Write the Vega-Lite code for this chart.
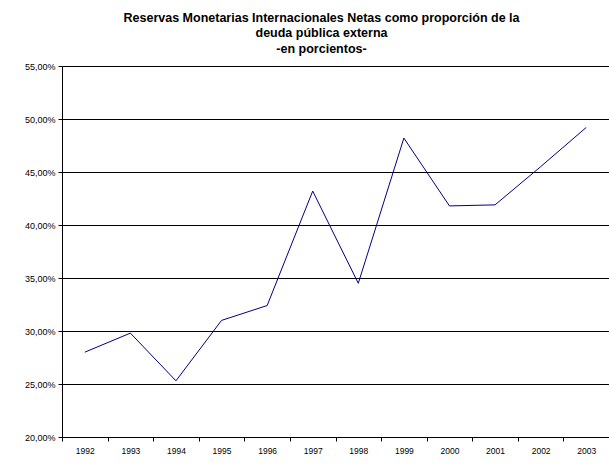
{
  "$schema": "https://vega.github.io/schema/vega-lite/v6.json",
  "width": 547,
  "height": 371,
  "autosize": {"type": "none"},
  "padding": {"left": 62, "top": 66, "right": 0, "bottom": 28},
  "background": "white",
  "title": {
    "text": ["Reservas Monetarias Internacionales Netas como proporción de la", "deuda pública externa", "-en porcientos-"],
    "font": "Liberation Sans",
    "fontSize": 12.5,
    "fontWeight": "bold",
    "color": "black",
    "lineHeight": 15.5,
    "anchor": "middle",
    "frame": "group",
    "dx": -14,
    "offset": 7
  },
  "data": {
    "values": [
      {"year": "1992", "value": 0.280},
      {"year": "1993", "value": 0.298},
      {"year": "1994", "value": 0.253},
      {"year": "1995", "value": 0.310},
      {"year": "1996", "value": 0.324},
      {"year": "1997", "value": 0.432},
      {"year": "1998", "value": 0.345},
      {"year": "1999", "value": 0.482},
      {"year": "2000", "value": 0.418},
      {"year": "2001", "value": 0.419},
      {"year": "2002", "value": 0.455},
      {"year": "2003", "value": 0.492}
    ]
  },
  "mark": {"type": "line", "color": "#000080", "strokeWidth": 1},
  "encoding": {
    "x": {
      "field": "year",
      "type": "ordinal",
      "scale": {"type": "band", "paddingInner": 0, "paddingOuter": 0},
      "axis": {
        "title": null,
        "labelAngle": 0,
        "tickBand": "extent",
        "tickSize": 4,
        "tickColor": "black",
        "domainColor": "black",
        "labelColor": "black",
        "labelFont": "Liberation Sans",
        "labelFontSize": 8.5,
        "labelPadding": 5,
        "grid": false
      }
    },
    "y": {
      "field": "value",
      "type": "quantitative",
      "scale": {"domain": [0.2, 0.55], "nice": false, "zero": false},
      "axis": {
        "title": null,
        "format": ".2%",
        "values": [0.2, 0.25, 0.3, 0.35, 0.4, 0.45, 0.5, 0.55],
        "tickSize": 4,
        "tickColor": "black",
        "domainColor": "black",
        "labelColor": "black",
        "labelFont": "Liberation Sans",
        "labelFontSize": 9,
        "labelPadding": 3,
        "grid": true,
        "gridColor": "black",
        "gridOpacity": 1,
        "gridWidth": 1
      }
    }
  },
  "config": {
    "view": {"stroke": null},
    "locale": {"number": {"decimal": ",", "thousands": ".", "grouping": [3], "currency": ["", " €"]}}
  }
}
